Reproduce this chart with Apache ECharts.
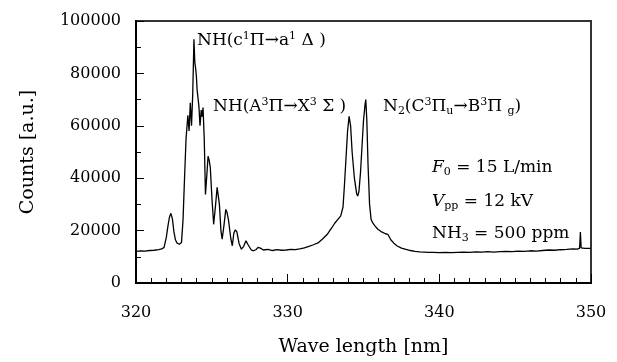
<!DOCTYPE html>
<html>
<head>
<meta charset="utf-8">
<script src="https://cdn.jsdelivr.net/npm/echarts@6/dist/echarts.min.js"></script>
<style>
  html, body { margin: 0; padding: 0; background: #fff; }
  #main { width: 617px; height: 362px; }
</style>
</head>
<body>
<div id="main"></div>
<script>
  var wavelength = [
    320.0, 320.3, 320.6, 320.9, 321.2, 321.5, 321.7, 321.85, 322.0, 322.1,
    322.2, 322.3, 322.4, 322.5, 322.6, 322.7, 322.85, 323.0, 323.1, 323.2,
    323.3, 323.42, 323.5, 323.58, 323.66, 323.74, 323.82, 323.88, 323.93, 323.98,
    324.03, 324.1, 324.15, 324.22, 324.3, 324.36, 324.42, 324.5, 324.58, 324.68,
    324.75, 324.82, 324.9, 325.0, 325.12, 325.25, 325.35, 325.42, 325.5, 325.6,
    325.68, 325.8, 325.92, 326.0, 326.1, 326.25, 326.35, 326.45, 326.55, 326.65,
    326.8, 326.95, 327.1, 327.25, 327.4, 327.6, 327.75, 327.9, 328.05, 328.2,
    328.4, 328.7, 329.0, 329.3, 329.6, 329.9, 330.2, 330.5, 330.8, 331.1,
    331.4, 331.7, 332.0, 332.3, 332.6, 332.9, 333.1, 333.3, 333.5, 333.65,
    333.75, 333.85, 333.95, 334.05, 334.15, 334.25, 334.4, 334.55, 334.62, 334.7,
    334.8, 334.9, 335.0, 335.1, 335.15, 335.22, 335.3, 335.4, 335.5, 335.6,
    335.75, 335.95, 336.2, 336.45, 336.6, 336.8, 337.0, 337.2, 337.5, 337.8,
    338.1, 338.4, 338.7, 339.0, 339.3, 339.6, 340.0, 340.4, 340.8, 341.2,
    341.6, 342.0, 342.4, 342.8, 343.2, 343.6, 344.0, 344.4, 344.8, 345.2,
    345.6, 346.0, 346.4, 346.8, 347.2, 347.6, 348.0, 348.4, 348.8, 349.1,
    349.25, 349.3, 349.35, 349.6, 350.0
  ]
  var counts = [
    12100, 12300, 12200, 12400, 12500, 12700, 13000, 13600, 17500, 21500,
    25000, 26600, 24500, 19500, 16500, 15300, 14800, 15500, 24000, 40000,
    55000, 64000, 58000, 68800, 60000, 72000, 93000, 84000, 82000, 79000,
    73700, 70000, 67300, 60000, 66000, 63500, 67000, 55000, 33800, 42000,
    48400, 47000, 44000, 33000, 22400, 30000, 36500, 36000, 30000, 20000,
    16700, 22000, 28100, 27000, 24000, 17000, 14200, 19000, 20300, 19500,
    15000, 12900, 14000, 16100, 14500, 12600, 12300, 12700, 13600, 13300,
    12600, 12800, 12400, 12700, 12500, 12600, 12800, 12700, 13000, 13400,
    14000, 14600, 15300, 16800, 18500, 21000, 22800, 24200, 25600, 29000,
    38000, 48000, 58000, 63600, 60000, 50000, 40000, 34000, 33200, 35000,
    42000, 52000, 62000, 68000, 70000, 62000, 45000, 30000, 24300, 23000,
    21800, 20500, 19500, 18800, 18600, 16500, 15200, 14200, 13300, 12800,
    12400, 12100, 11900, 11800, 11700, 11700, 11600, 11700, 11600, 11700,
    11800, 11700, 11900, 11800, 12000, 11800, 12000, 12100, 12000, 12200,
    12100, 12300, 12200, 12400, 12600, 12500, 12700, 12800, 13000, 12900,
    13300, 19500, 13400, 13200, 13200
  ]
  var xTicks = [320, 330, 340, 350]
  var yTicks = [0, 20000, 40000, 60000, 80000, 100000]

  var serif = "'DejaVu Serif', serif"

  var richStyles = {
    sup: { fontSize: 11, fontFamily: serif, lineHeight: 11, padding: [1, 0, 0, 0], verticalAlign: 'top' },
    sub: { fontSize: 11, fontFamily: serif, lineHeight: 11, padding: [10, 0, 0, 0], verticalAlign: 'top' },
    it: { fontSize: 17, fontFamily: serif, fontStyle: 'italic', lineHeight: 22 }
  }

  function note (x, y, text) {
    return {
      type: 'text',
      left: x,
      top: y,
      style: {
        text: text,
        fontSize: 17,
        fontFamily: serif,
        fill: '#000',
        lineHeight: 22,
        rich: richStyles
      }
    }
  }

  function getOptions () {
    var points = wavelength.map(function (w, i) { return [w, counts[i]] })
    return {
      animation: false,
      backgroundColor: '#fff',
      // frame for the top and right sides
      grid: { left: 136, top: 21, right: 26, bottom: 78, show: true, borderColor: '#333', borderWidth: 2 },
      xAxis: {
        type: 'value',
        min: xTicks[0],
        max: xTicks[xTicks.length - 1],
        interval: 10,
        name: 'Wave length [nm]',
        nameLocation: 'middle',
        nameGap: 55,
        nameTextStyle: { color: '#000', fontSize: 19, fontFamily: serif },
        axisLine: { show: true, onZero: false, lineStyle: { color: '#000', width: 2 } },
        axisTick: { show: true, inside: true, length: 9, lineStyle: { color: '#000', width: 1 } },
        minorTick: { show: true, splitNumber: 10, length: 5, lineStyle: { color: '#000', width: 1 } },
        axisLabel: { color: '#000', fontSize: 16, fontFamily: serif, margin: 22 },
        splitLine: { show: false }
      },
      yAxis: {
        type: 'value',
        min: yTicks[0],
        max: yTicks[yTicks.length - 1],
        interval: 20000,
        name: 'Counts [a.u.]',
        nameLocation: 'middle',
        nameGap: 98,
        nameTextStyle: { color: '#000', fontSize: 19, fontFamily: serif },
        axisLine: { show: true, onZero: false, lineStyle: { color: '#000', width: 2 } },
        axisTick: { show: true, inside: true, length: 8, lineStyle: { color: '#000', width: 1 } },
        minorTick: { show: true, splitNumber: 2, length: 5, lineStyle: { color: '#000', width: 1 } },
        axisLabel: {
          color: '#000',
          fontSize: 16,
          fontFamily: serif,
          margin: 15,
          formatter: function (v) { return String(v) }
        },
        splitLine: { show: false }
      },
      series: [{
        type: 'line',
        data: points,
        showSymbol: false,
        lineStyle: { color: '#000', width: 1.3 }
      }],
      graphic: [
        note(197, 30, 'NH(c{sup|1}Π→a{sup|1} Δ )'),
        note(213, 96, 'NH(A{sup|3}Π→X{sup|3} Σ )'),
        note(383, 96, 'N{sub|2}(C{sup|3}Π{sub|u}→B{sup|3}Π {sub|g})'),
        note(432, 157, '{it|F}{sub|0} = 15 L/min'),
        note(432, 191, '{it|V}{sub|pp} = 12 kV'),
        note(432, 223, 'NH{sub|3} = 500 ppm')
      ]
    }
  }

  var chart = echarts.init(document.getElementById('main'))
  chart.setOption(getOptions())
</script>
</body>
</html>
